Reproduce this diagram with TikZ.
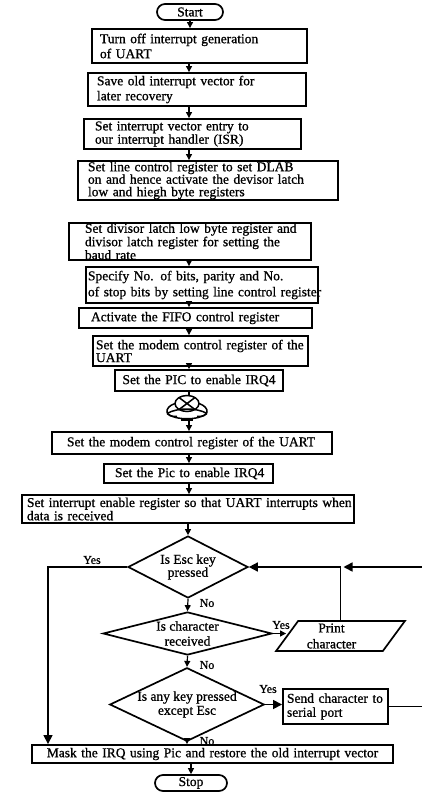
\documentclass[tikz,border=0pt]{standalone}
\usepackage{fontspec}
\setmainfont{Liberation Serif}[BoldFont=Liberation Serif,BoldFeatures={FakeBold=0.9}]
\usetikzlibrary{arrows.meta,shapes.geometric,calc}
\begin{document}
\begin{tikzpicture}[x=1pt,y=-1pt,
  fs/.style={font=\fontsize{13.5}{#1}\selectfont\bfseries},
  box/.style={draw,line width=1.9pt,inner xsep=0pt,inner ysep=0pt,align=left},
  term/.style={draw,line width=1.7pt,rounded corners=8pt,inner sep=0pt,minimum height=16pt,fs=14},
  dec/.style={diamond,draw,line width=1.7pt,inner sep=0pt,align=center},
  lbl/.style={font=\fontsize{12}{14}\selectfont\bfseries,inner sep=0pt},
  arr/.style={line width=1.2pt,-{Triangle[length=6pt,width=6pt]}},
  arrbig/.style={line width=1.6pt,-{Triangle[length=9pt,width=9pt]}},
  ln/.style={line width=1.3pt}
]
\useasboundingbox (0,0) rectangle (422,809);
\coordinate (col) at (189,0);

\node[term,minimum width=66pt] (start) at (190,12) {Start};
\node[box,fs=15,minimum width=215pt,minimum height=34pt,text width=199pt] (b1) at (199.5,46)
  {\mbox{Turn off interrupt generation}\\of UART};
\node[box,fs=15,minimum width=218pt,minimum height=33pt,text width=200pt] (b2) at (197,89.5)
  {\mbox{Save old interrupt vector for}\\later recovery};
\node[box,fs=12,minimum width=217pt,minimum height=30pt,text width=195pt] (b3) at (192.5,134)
  {\mbox{Set interrupt vector entry to}\\\mbox{our interrupt handler (ISR)}};
\node[box,fs=12.5,minimum width=260pt,minimum height=39pt,text width=240pt] (b4) at (208,180.5)
  {\mbox{Set line control register to set DLAB}\\\mbox{on and hence activate the devisor latch}\\\mbox{low and hiegh byte registers}};
\node[box,fs=10.5,minimum width=242pt,minimum height=35pt,text width=210pt] (b5) at (190,241.5)
  {\mbox{Set divisor latch low byte register and}\\\mbox{divisor latch register for setting the}\\baud rate};
\node[box,fs=16,minimum width=232pt,minimum height=36pt,text width=228pt] (b6) at (202,285)
  {\mbox{Specify No. of bits, parity and No.}\\\mbox{of stop bits by setting line control register}};
\node[box,fs=14,minimum width=233pt,minimum height=20pt,text width=209pt] (b7) at (195.5,318)
  {\mbox{Activate the FIFO control register}};
\node[box,fs=11,minimum width=215pt,minimum height=30pt,text width=209pt] (b8) at (200.5,351)
  {\mbox{Set the modem control register of the}\\UART};
\node[box,fs=14,align=center,minimum width=168pt,minimum height=21pt,text width=160pt] (b9) at (199,380.5)
  {\mbox{Set the PIC to enable IRQ4}};
\node[draw=none,minimum width=44pt,minimum height=25pt] (conn) at (187,407.5) {};
\node[box,fs=14,minimum width=280pt,minimum height=22pt,text width=250pt] (b10) at (192,443)
  {\mbox{Set the modem control register of the UART}};
\node[box,fs=14,minimum width=169pt,minimum height=19pt,text width=147pt] (b11) at (188.5,473.5)
  {\mbox{Set the Pic to enable IRQ4}};
\node[box,fs=10,minimum width=332pt,minimum height=28pt,text width=322pt] (b12) at (188,509)
  {\mbox{Set interrupt enable register so that UART interrupts when}\\data is received};

\node[dec,fs=13,minimum width=120pt,minimum height=62pt,shape aspect=1.9] (d1) at (188,567)
  {Is Esc key\\pressed};
\node[dec,fs=15,minimum width=169pt,minimum height=43pt,shape aspect=3.9] (d2) at (187.5,633.5)
  {Is character\\received};
\node[trapezium,draw,line width=1.7pt,trapezium left angle=55,trapezium right angle=125,
  trapezium stretches=true,minimum width=129pt,minimum height=30pt,inner sep=0pt,align=center,fs=16] (print) at (340.5,636)
  {Print\hspace*{18pt}\\character\hspace*{18pt}};
\node[dec,fs=14,minimum width=148pt,minimum height=71pt,shape aspect=2.1] (d3) at (187,704.5)
  {Is any key pressed\\except Esc};
\node[box,fs=14,minimum width=105pt,minimum height=35pt,text width=97pt] (send) at (335.5,706.5)
  {\mbox{Send character to}\\serial port};
\node[box,fs=14,align=center,minimum width=361pt,minimum height=18pt,text width=350pt] (mask) at (212.5,754)
  {\mbox{Mask the IRQ using Pic and restore the old interrupt vector}};
\node[term,minimum width=72pt] (stop) at (191,783) {Stop};

% connector doodle
\begin{scope}[shift={(conn.center)},line width=1.5pt]
  \draw (0,-4) ellipse [x radius=12, y radius=8];
  \draw (-8,-10) -- (8,2) (8,-10) -- (-8,2);
  \draw (-12,-4) .. controls (-24,0) and (-22,10) .. (-10,9);
  \draw (12,-4) .. controls (24,0) and (22,10) .. (10,9);
  \draw (-20,6) .. controls (-12,13) and (12,13) .. (20,6);
  \draw (-20,6) .. controls (-10,0) and (10,0) .. (20,6);
  \draw (-6,12.5) -- (6,12.5);
\end{scope}

% main arrows
\draw[arr] (start.south) -- (start.south |- b1.north);
\draw[arr] (b1.south -| col) -- (b2.north -| col);
\draw[arr] (b2.south -| col) -- (b3.north -| col);
\draw[arr] (b3.south -| col) -- (b4.north -| col);
\draw[arr] (b5.south -| col) -- (b6.north -| col);
\draw[arr] (b6.south -| col) -- (b7.north -| col);
\draw[arr] (b7.south -| col) -- (b8.north -| col);
\draw[arr] (b8.south -| col) -- (b9.north -| col);
\draw[ln] (b9.south -| col) -- (conn.north -| col);
\draw[arr] (conn.south -| col) -- (b10.north -| col);
\draw[arr] (b10.south -| col) -- (b11.north -| col);
\draw[arr] (b11.south -| col) -- (b12.north -| col);
\draw[arr] (b12.south -| d1) -- (d1.north);
\draw[arr] (d1.south) -- (d2.north);
\draw[arr] (d2.south) -- (d3.north);
\draw[arr] (d3.south) -- (d3.south |- mask.north);
\draw[arr] (mask.south -| stop) -- (stop.north);

% branches
\coordinate (lc) at (48,0);
\draw[arrbig] (d1.west) -- (d1.west -| lc) -- (mask.north -| lc);
\draw[arr] (d2.east) -- (d2.east -| print.west);
\draw[arrbig] (print.north) -- (print.north |- d1.east) -- (d1.east);
\coordinate (re1) at (422,567);
\draw[arrbig] (re1) -- ($(print.north |- d1.east)+(3,0)$);
\draw[arrbig] (d3.east) -- (d3.east -| send.west);
\coordinate (re2) at (422,0);
\draw[ln] (send.east) -- (send.east -| re2);

% labels
\node[lbl] (y1) at (92,560) {Yes};
\node[lbl] (n1) at (207,603) {No};
\node[lbl] (y2) at (281,625) {Yes};
\node[lbl] (n2) at (207,665) {No};
\node[lbl] (y3) at (268,689) {Yes};
\node[lbl] (n3) at (207,741) {No};
\end{tikzpicture}
\end{document}
